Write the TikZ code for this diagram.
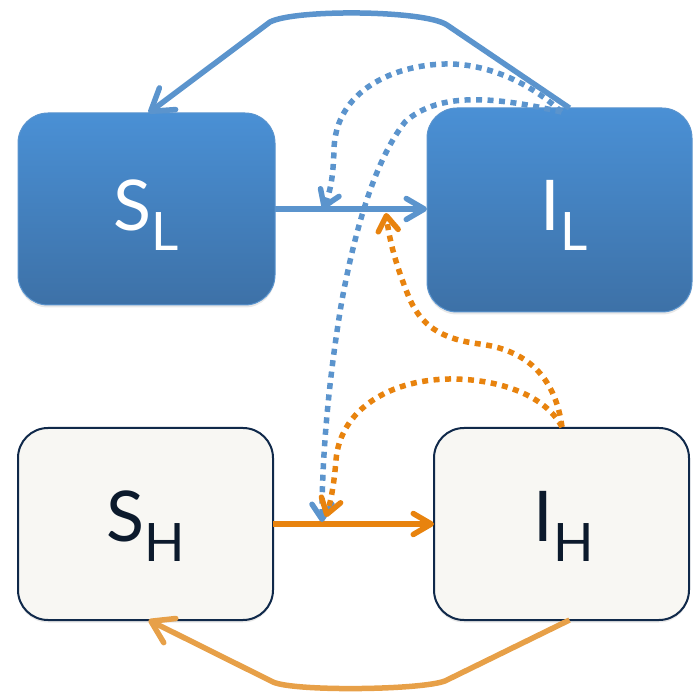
\documentclass[tikz,border=0pt]{standalone}
\usepackage{fontspec}
\setmainfont{Lato}
\usetikzlibrary{arrows.meta,calc,shadows}

\definecolor{boxTop}{HTML}{4A90D5}
\definecolor{boxBot}{HTML}{3D71A7}
\definecolor{boxEdge}{HTML}{5A94CE}
\definecolor{paleFill}{HTML}{F8F7F3}
\definecolor{navy}{HTML}{10294A}
\definecolor{ink}{HTML}{0C1A2C}
\definecolor{flowBlue}{HTML}{5B94CD}
\definecolor{flowOrange}{HTML}{E8830E}
\definecolor{softOrange}{HTML}{E7A048}

\tikzset{
  compartment/.style={rectangle, rounded corners=30pt, inner sep=0pt, outer sep=0pt,
    drop shadow={shadow xshift=0pt, shadow yshift=-2.5pt, opacity=0.18}},
  hotbox/.style={compartment, top color=boxTop, bottom color=boxBot, draw=boxEdge, line width=1pt},
  coldbox/.style={compartment, fill=paleFill, draw=navy, line width=2pt},
  lbl/.style={anchor=base, inner sep=0pt},
  transition/.style={-{Straight Barb[length=18pt,width=21pt,round]}, line width=5.5pt},
  recovery/.style={-{Straight Barb[length=21pt,width=27pt,round]}, line width=5.5pt},
  pressure/.style={-{Straight Barb[length=15pt,width=20pt,round]}, line width=5.5pt,
    dash pattern=on 6pt off 5.5pt},
}

\newcommand{\bigsym}[2]{{\fontsize{70}{70}\selectfont #1}\raisebox{-20pt}{\fontsize{53}{53}\selectfont #2}}

\begin{document}
\begin{tikzpicture}[x=1pt, y=-1pt]
  \useasboundingbox (0,0) rectangle (694,692);

  % compartments
  \node[hotbox, minimum width=257pt, minimum height=192pt] (SL) at (146.5,209) {};
  \node[hotbox, minimum width=265pt, minimum height=204pt] (IL) at (559.5,210) {};
  \node[coldbox, minimum width=255pt, minimum height=192pt] (SH) at (145.5,524) {};
  \node[coldbox, minimum width=255pt, minimum height=192pt] (IH) at (561.5,524) {};

  % labels
  \node[lbl, text=white] (tSL) at (146,231) {\bigsym{S}{L}};
  \node[lbl, text=white] (tIL) at (564,231) {\bigsym{I}{L}};
  \node[lbl, text=ink]   (tSH) at (146,542) {\bigsym{S}{H}};
  \node[lbl, text=ink]   (tIH) at (564,542) {\bigsym{I}{H}};

  % points where the infection arrows meet the transition arrows
  \coordinate (jL)  at (323,209);
  \coordinate (jLo) at (386,213);
  \coordinate (jH)  at (322,522);
  \coordinate (jHo) at (326,517);
  \coordinate (outL) at ($(IL.north)+(2,4)$);
  \coordinate (outH) at ($(IH.north)+(0.5,-1)$);

  % transitions
  \draw[transition, flowBlue] (SL.east) -- (SL.east -| IL.west);
  \draw[transition, flowOrange] (SH.east) -- (IH.west);

  % recovery loops
  \draw[recovery, flowBlue] ($(IL.north)+(10,0)$) -- (447,25)
      .. controls (425,10) and (295,9) .. (270,22) -- ($(SL.north)+(2,0)$);
  \draw[recovery, softOrange] ($(IH.south)+(8,0)$) -- (447,680)
      .. controls (430,690) and (295,692) .. (273,682) -- ($(SH.south)+(3,0)$);

  % infection pressure
  \draw[pressure, flowBlue] (outL)
      .. controls (525,78) and (480,63) .. (445,64)
      .. controls (395,65) and (335,90) .. (334,150)
      .. controls (333,180) and (330,192) .. (jL);
  \draw[pressure, flowBlue] (outL)
      .. controls (500,98) and (440,90) .. (405,122)
      .. controls (375,160) and (355,230) .. (342,300)
      .. controls (330,370) and (322,450) .. (jH);
  \draw[pressure, flowOrange] (outH)
      .. controls (555,375) and (525,350) .. (480,344)
      .. controls (440,339) and (420,325) .. (408,295)
      .. controls (398,270) and (390,245) .. (jLo);
  \draw[pressure, flowOrange] (outH)
      .. controls (545,395) and (500,380) .. (455,379)
      .. controls (390,378) and (340,410) .. (336,460)
      .. controls (334,485) and (331,500) .. (jHo);
\end{tikzpicture}
\end{document}
